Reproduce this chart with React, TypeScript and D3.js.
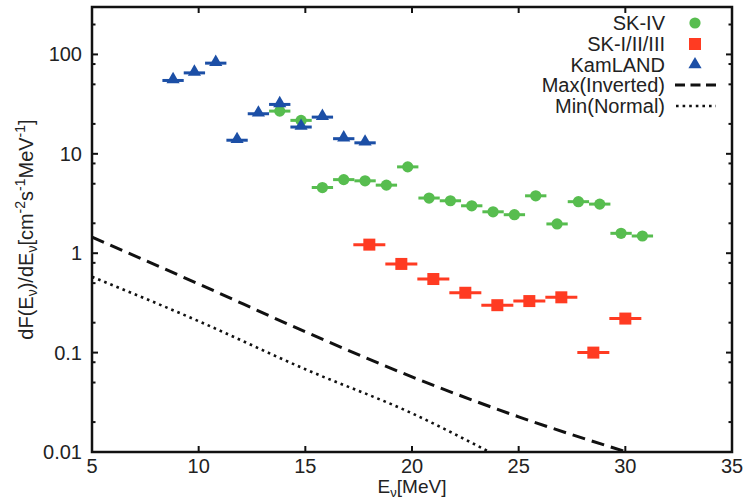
import React from 'react';
import * as d3 from 'd3';

const skIVEnergy = [13.8, 14.8, 15.8, 16.8, 17.8, 18.8, 19.8, 20.8, 21.8, 22.8, 23.8, 24.8, 25.8, 26.8, 27.8, 28.8, 29.8, 30.8];
const skIVFlux = [26.9, 21.7, 4.58, 5.5, 5.35, 4.84, 7.39, 3.59, 3.37, 3.0, 2.61, 2.44, 3.78, 1.97, 3.3, 3.12, 1.585, 1.49];
const skIVHalfWidth = 0.5;

const skOldEnergy = [18, 19.5, 21, 22.5, 24, 25.5, 27, 28.5, 30];
const skOldFlux = [1.22, 0.78, 0.55, 0.4, 0.3, 0.33, 0.36, 0.1, 0.22];
const skOldHalfWidth = 0.75;

const kamEnergy = [8.8, 9.8, 10.8, 11.8, 12.8, 13.8, 14.8, 15.8, 16.8, 17.8];
const kamFlux = [54.7, 65.2, 81.7, 13.7, 25.3, 31.4, 18.6, 23.4, 14.2, 12.9];
const kamHalfWidth = 0.5;

const maxEnergy = [5, 10, 15, 20, 25, 30];
const maxFlux = [1.45, 0.49, 0.162, 0.057, 0.0226, 0.0101];

const minEnergy = [5, 10, 15, 20, 23.6];
const minFlux = [0.58, 0.207, 0.068, 0.0245, 0.0101];

const xTicks = [5, 10, 15, 20, 25, 30, 35];
const yTicks = [0.01, 0.1, 1, 10, 100];
const yTickLabels = ['0.01', '0.1', '1', '10', '100'];
const yMinorMultipliers = [2, 5, 8];

const legendLabels = ['SK-IV', 'SK-I/II/III', 'KamLAND', 'Max(Inverted)', 'Min(Normal)'];

const GREEN = '#57bd4f';
const RED = '#ff3b22';
const BLUE = '#1c4fa6';
const FONT = '"Liberation Sans", Arial, Helvetica, sans-serif';

export default function App() {
  const W = 748, H = 499;
  const left = 92, right = 732, top = 7, bottom = 452;
  const x = d3.scaleLinear().domain([5, 35]).range([left, right]);
  const y = d3.scaleLog().domain([0.01, 300]).range([bottom, top]);

  const line = d3.line<[number, number]>()
    .x(d => x(d[0]))
    .y(d => y(d[1]))
    .curve(d3.curveMonotoneX);

  const maxPts = maxEnergy.map((e, i) => [e, maxFlux[i]] as [number, number]);
  const minPts = minEnergy.map((e, i) => [e, minFlux[i]] as [number, number]);

  const minorY: number[] = [];
  for (let p = -2; p <= 2; p++) {
    for (const m of yMinorMultipliers) {
      const v = m * Math.pow(10, p);
      if (v > 0.01 && v < 300) minorY.push(v);
    }
  }

  const tri = d3.symbol().type(d3.symbolTriangle).size(75)();
  const sq = 12;

  const legendY = [23, 44, 64.5, 85, 106];
  const legendTextX = 665;
  const legendSymX = 695;

  return (
    <svg width={W} height={H} style={{ position: 'absolute', left: 0, top: 0, background: '#fff' }} fontFamily={FONT}>
      <defs>
        <clipPath id="plotclip">
          <rect x={left} y={top} width={right - left} height={bottom - top} />
        </clipPath>
      </defs>
      <rect x={0} y={0} width={W} height={H} fill="#fff" />

      {/* theory lines */}
      <g clipPath="url(#plotclip)">
        <path d={line(maxPts) || ''} fill="none" stroke="#111" strokeWidth={3} strokeDasharray="13,7" />
        <path d={line(minPts) || ''} fill="none" stroke="#111" strokeWidth={2.6} strokeDasharray="2.6,4" />
      </g>

      {/* SK-I/II/III */}
      {skOldEnergy.map((e, i) => (
        <g key={'o' + i}>
          <line x1={x(e - skOldHalfWidth)} x2={x(e + skOldHalfWidth)} y1={y(skOldFlux[i])} y2={y(skOldFlux[i])} stroke={RED} strokeWidth={3} />
          <rect x={x(e) - sq / 2} y={y(skOldFlux[i]) - sq / 2} width={sq} height={sq} fill={RED} />
        </g>
      ))}

      {/* SK-IV */}
      {skIVEnergy.map((e, i) => (
        <g key={'s' + i}>
          <line x1={x(e - skIVHalfWidth)} x2={x(e + skIVHalfWidth)} y1={y(skIVFlux[i])} y2={y(skIVFlux[i])} stroke={GREEN} strokeWidth={3} />
          <circle cx={x(e)} cy={y(skIVFlux[i])} r={5.6} fill={GREEN} />
        </g>
      ))}

      {/* KamLAND */}
      {kamEnergy.map((e, i) => (
        <g key={'k' + i}>
          <line x1={x(e - kamHalfWidth)} x2={x(e + kamHalfWidth)} y1={y(kamFlux[i])} y2={y(kamFlux[i])} stroke={BLUE} strokeWidth={3} />
          <path d={tri || ''} transform={`translate(${x(e)},${y(kamFlux[i]) - 1})`} fill={BLUE} />
        </g>
      ))}

      {/* ticks */}
      <g stroke="#111" strokeWidth={2}>
        {xTicks.slice(1, -1).map(t => (
          <g key={'xt' + t}>
            <line x1={x(t)} x2={x(t)} y1={bottom} y2={bottom - 6} />
            <line x1={x(t)} x2={x(t)} y1={top} y2={top + 6} />
          </g>
        ))}
        {yTicks.map(t => (
          <g key={'yt' + t}>
            <line x1={left} x2={left + 6} y1={y(t)} y2={y(t)} />
            <line x1={right} x2={right - 6} y1={y(t)} y2={y(t)} />
          </g>
        ))}
        {minorY.map(t => (
          <g key={'ym' + t}>
            <line x1={left} x2={left + 3.5} y1={y(t)} y2={y(t)} />
            <line x1={right} x2={right - 3.5} y1={y(t)} y2={y(t)} />
          </g>
        ))}
      </g>

      {/* frame */}
      <rect x={left} y={top} width={right - left} height={bottom - top} fill="none" stroke="#111" strokeWidth={2.5} />

      {/* tick labels */}
      <g fontSize={20} fill="#222">
        {xTicks.map(t => (
          <text key={'xl' + t} x={x(t)} y={473} textAnchor="middle">{t}</text>
        ))}
        {yTicks.map((t, i) => (
          <text key={'yl' + t} x={82} y={y(t) + 7} textAnchor="end">{yTickLabels[i]}</text>
        ))}
      </g>

      {/* x axis title */}
      <text x={(left + right) / 2} y={493} textAnchor="middle" fontSize={19} fill="#222">
        E<tspan fontSize={13} dy={4}>ν</tspan><tspan dy={-4}>[MeV]</tspan>
      </text>

      {/* y axis title */}
      <text transform={`translate(33,${(top + bottom) / 2}) rotate(-90)`} textAnchor="middle" fontSize={20} fill="#222">
        dF(E<tspan fontSize={14} dy={4}>ν</tspan><tspan dy={-4}>)/dE</tspan><tspan fontSize={14} dy={4}>ν</tspan><tspan dy={-4}>[cm</tspan><tspan fontSize={14} dy={-8}>-2</tspan><tspan dy={8}>s</tspan><tspan fontSize={14} dy={-8}>-1</tspan><tspan dy={8}>MeV</tspan><tspan fontSize={14} dy={-8}>-1</tspan><tspan dy={8}>]</tspan>
      </text>

      {/* legend */}
      <g fontSize={20} fill="#222">
        {legendLabels.map((l, i) => (
          <text key={'lg' + i} x={legendTextX} y={legendY[i] + 7} textAnchor="end">{l}</text>
        ))}
      </g>
      <circle cx={legendSymX} cy={legendY[0]} r={5.6} fill={GREEN} />
      <rect x={legendSymX - sq / 2} y={legendY[1] - sq / 2} width={sq} height={sq} fill={RED} />
      <path d={tri || ''} transform={`translate(${legendSymX},${legendY[2]})`} fill={BLUE} />
      <line x1={675} x2={716} y1={legendY[3]} y2={legendY[3]} stroke="#111" strokeWidth={3} strokeDasharray="10,5.5" />
      <line x1={676} x2={716} y1={legendY[4]} y2={legendY[4]} stroke="#111" strokeWidth={2.6} strokeDasharray="2.6,4" />
    </svg>
  );
}
